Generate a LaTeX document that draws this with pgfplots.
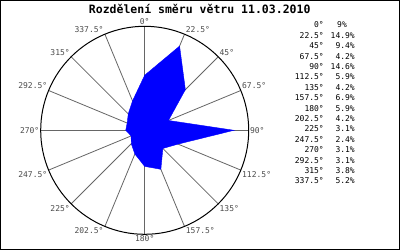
\documentclass[border=0pt]{standalone}
\usepackage{pgfplots}
\pgfplotsset{compat=1.18}
\usepackage{pgfplotstable}
\usetikzlibrary{calc}
\usepackage{fontspec}
\setmainfont{DejaVu Sans Mono}
\setmonofont{DejaVu Sans Mono}

\pgfplotstableread{
d p
0 9
22.5 14.9
45 9.4
67.5 4.2
90 14.6
112.5 5.9
135 4.2
157.5 6.9
180 5.9
202.5 4.2
225 3.1
247.5 2.4
270 3.1
292.5 3.1
315 3.8
337.5 5.2
360 9
}\windtab

\begin{document}
\begin{tikzpicture}[x=1bp,y=1bp]
\fill[white] (0,0) rectangle (400,250);
\draw[line width=1bp] (0.5,0.5) rectangle (399.5,249.5);
\coordinate (c) at (144.7,119.7);
\foreach \a in {0,22.5,...,337.5} \draw[black!60, line width=0.8bp] (c) -- ++({90-\a}:104);
\begin{axis}[at={(c)}, anchor=center, scale only axis, width=208bp, height=208bp,
  xmin=-17, xmax=17, ymin=-17, ymax=17, axis lines=none, clip=false]
\addplot[fill=blue, draw=blue, line width=0.4bp]
  table[x expr={\thisrow{p}*sin(\thisrow{d})}, y expr={\thisrow{p}*cos(\thisrow{d})}] {\windtab};
\end{axis}
\draw[line width=1bp] (c) circle (104);
\foreach \a/\an in {0/south, 22.5/south west, 45/south west, 67.5/south west, 90/west,
  112.5/north west, 135/north west, 157.5/north west, 180/north, 202.5/north east,
  225/north east, 247.5/north east, 270/east, 292.5/south east, 315/south east, 337.5/south east}
  \node[anchor=\an, inner sep=1.2bp, text=black!70, font=\fontsize{8bp}{9bp}\selectfont] at ($(c)+({90-\a}:104)$) {\a°};
\node[font=\fontsize{11.5bp}{13bp}\selectfont\bfseries] at (199.7,241.3) {Rozdělení směru větru 11.03.2010};
\foreach \a [count=\i from 0] in {0, 22.5, 45, 67.5, 90, 112.5,
  135, 157.5, 180, 202.5, 225, 247.5, 270,
  292.5, 315, 337.5} {
  \node[anchor=east, inner sep=0pt, font=\fontsize{8bp}{9bp}\selectfont] at (324,225-\i*10.4) {\a°};
}
\foreach \p [count=\i from 1] in {14.9, 9.4, 4.2, 14.6, 5.9,
  4.2, 6.9, 5.9, 4.2, 3.1, 2.4, 3.1, 3.1, 3.8, 5.2} {
  \node[anchor=east, inner sep=0pt, font=\fontsize{8bp}{9bp}\selectfont] at (355,225-\i*10.4) {\p\%};
}
\node[anchor=west, inner sep=0pt, font=\fontsize{8bp}{9bp}\selectfont] at (337,225) {9\%};
\end{tikzpicture}
\end{document}
